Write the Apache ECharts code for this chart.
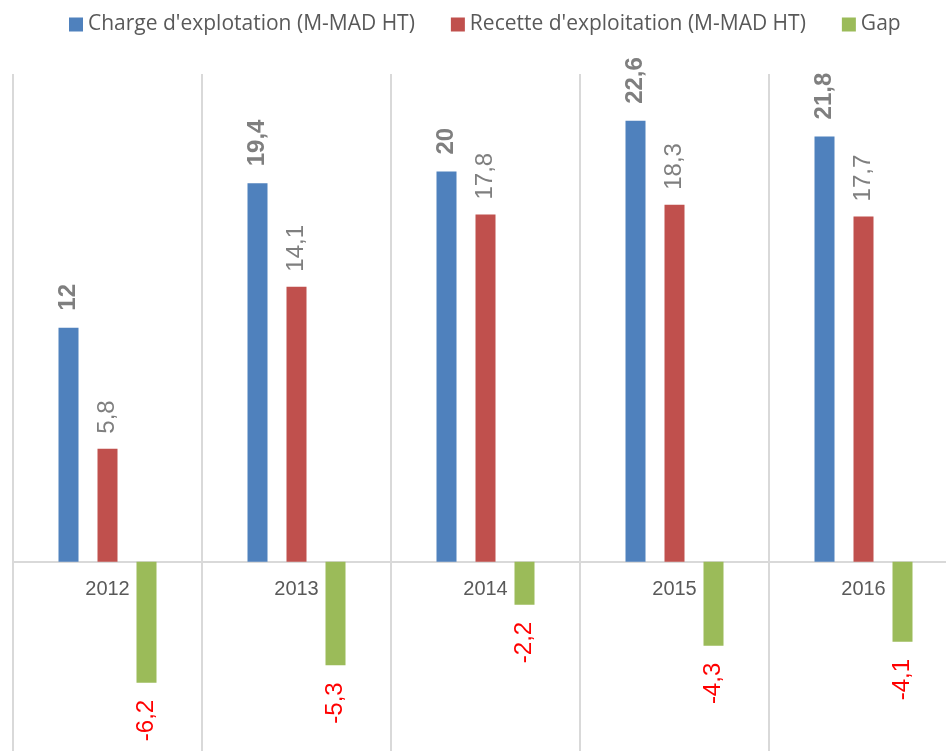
<!DOCTYPE html>
<html><head><meta charset="utf-8">
<script src="https://cdn.jsdelivr.net/npm/echarts@6/dist/echarts.min.js"></script>
<style>html,body{margin:0;padding:0;background:#fff}#c{width:946px;height:751px}</style>
</head><body><div id="c"></div>
<script>
const categories = ['2012', '2013', '2014', '2015', '2016'];
const charges = [12, 19.4, 20, 22.6, 21.8];
const recettes = [5.8, 14.1, 17.8, 18.3, 17.7];
const gaps = [-6.2, -5.3, -2.2, -4.3, -4.1];
const seriesNames = ["Charge d'explotation (M-MAD HT)", "Recette d'exploitation (M-MAD HT)", 'Gap'];

const fmt = p => String(p.value).replace('.', ',');
const font = 'Liberation Sans, Arial, sans-serif';
const chart = echarts.init(document.getElementById('c'), null, {renderer: 'canvas'});
chart.setOption({
  animation: false,
  textStyle: {fontFamily: font},
  legend: {
    top: 9, left: 64, itemWidth: 14, itemHeight: 14, itemGap: 36,
    icon: 'rect',
    textStyle: {fontSize: 21, color: '#595959', fontFamily: 'Open Sans, sans-serif'}
  },
  grid: {left: 13, right: -12, top: 74, bottom: -6, containLabel: false, outerBoundsMode: 'none'},
  xAxis: {
    type: 'category', data: categories,
    offset: -195,
    axisLine: {show: true, onZero: false, lineStyle: {color: '#d9d9d9', width: 2}},
    axisTick: {show: false},
    axisLabel: {color: '#595959', fontSize: 20, margin: 17},
    splitLine: {show: true, lineStyle: {color: '#d9d9d9', width: 2}}
  },
  yAxis: {
    type: 'value', min: -10, max: 25, interval: 5, show: false,
    splitLine: {show: false}
  },
  series: [
    {name: seriesNames[0], type: 'bar', data: charges, barWidth: 20, barGap: '95%',
     itemStyle: {color: '#4f81bd'},
     label: {show: true, position: 'top', rotate: 90, align: 'left', verticalAlign: 'middle',
       distance: 17, color: '#7f7f7f', fontSize: 24, fontWeight: 'bold', formatter: fmt}},
    {name: seriesNames[1], type: 'bar', data: recettes, barWidth: 20, barGap: '95%',
     itemStyle: {color: '#c0504d'},
     label: {show: true, position: 'top', rotate: 90, align: 'left', verticalAlign: 'middle',
       distance: 15, color: '#7f7f7f', fontSize: 24, formatter: fmt}},
    {name: seriesNames[2], type: 'bar', data: gaps, barWidth: 20, barGap: '95%',
     itemStyle: {color: '#9bbb59'},
     label: {show: true, position: 'bottom', rotate: 90, align: 'right', verticalAlign: 'middle',
       distance: 17, color: '#ff0000', fontSize: 24, formatter: fmt}}
  ]
});
</script></body></html>
